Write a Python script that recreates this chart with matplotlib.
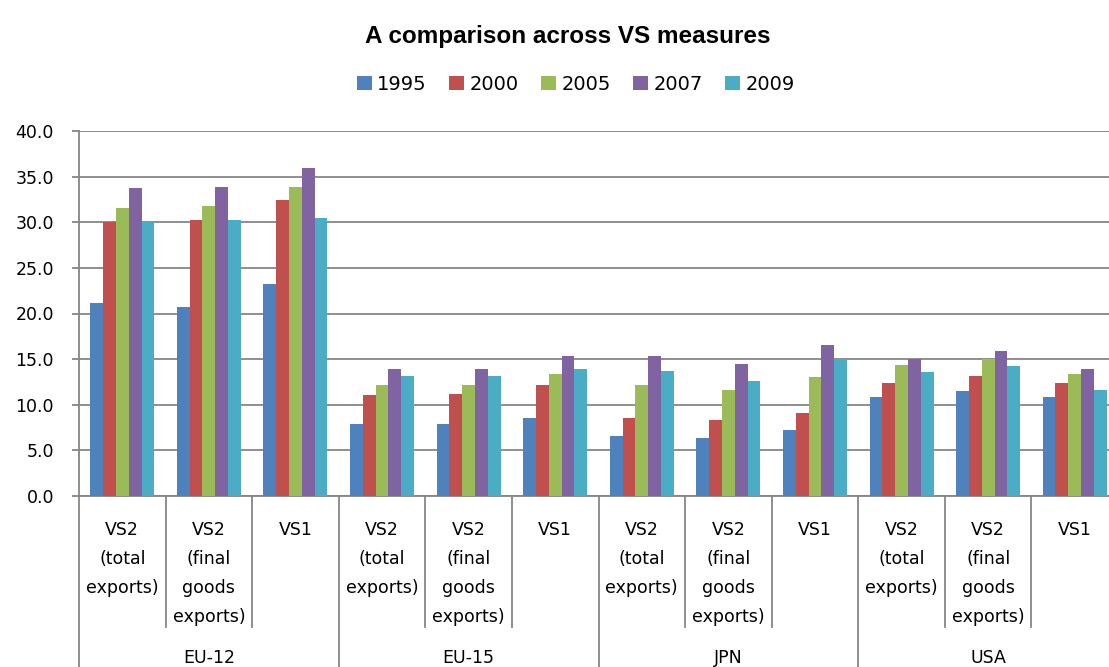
import matplotlib
matplotlib.use("Agg")
import matplotlib.pyplot as plt
import numpy as np

years = ["1995", "2000", "2005", "2007", "2009"]
colors = ["#4F81BD", "#C0504D", "#9BBB59", "#8064A2", "#4BACC6"]
measures = ["VS2\n(total\nexports)", "VS2\n(final\ngoods\nexports)", "VS1"]
regions = ["EU-12", "EU-15", "JPN", "USA"]

# one list per year, 12 values: (EU-12, EU-15, JPN, USA) x (VS2 total, VS2 final, VS1)
v1995 = [21.1, 20.7, 23.2, 7.9, 7.9, 8.5, 6.6, 6.4, 7.2, 10.9, 11.5, 10.9]
v2000 = [30.0, 30.3, 32.4, 11.1, 11.2, 12.2, 8.5, 8.3, 9.1, 12.4, 13.2, 12.4]
v2005 = [31.6, 31.8, 33.9, 12.2, 12.2, 13.4, 12.2, 11.6, 13.0, 14.4, 15.0, 13.4]
v2007 = [33.7, 33.9, 35.9, 13.9, 13.9, 15.3, 15.3, 14.5, 16.5, 15.0, 15.9, 13.9]
v2009 = [30.0, 30.3, 30.5, 13.2, 13.2, 13.9, 13.7, 12.6, 15.0, 13.6, 14.3, 11.6]
series = [v1995, v2000, v2005, v2007, v2009]

grey = "#868686"
fig = plt.figure(figsize=(11.09, 6.67), dpi=100)
ax = fig.add_axes([79/1109, 171/667, 1039/1109, 365/667])

n = len(v1995)
x = np.arange(n) + 0.5
w = 0.148
for j, (vals, c, yr) in enumerate(zip(series, colors, years)):
    ax.bar(x + (j - 2) * w, vals, width=w, color=c, label=yr, zorder=3)

ax.set_xlim(0, n)
ax.set_ylim(0, 40)
ax.set_yticks(np.arange(0, 41, 5))
ax.set_yticklabels(["%.1f" % t for t in np.arange(0, 41, 5)], fontsize=12.5)
ax.yaxis.grid(True, color=grey, linewidth=1.3, zorder=0)
ax.set_xticks([])
ax.tick_params(axis="y", length=5, width=1.3, color=grey, pad=13)
for s in ["top", "right", "left"]:
    ax.spines[s].set_visible(False)
ax.spines["bottom"].set_color(grey)
ax.spines["bottom"].set_linewidth(1.3)

# category separators below the axis
tr = ax.get_xaxis_transform()
for k in range(n + 1):
    low = -0.5 if k % 3 == 0 else -0.359
    ax.plot([k, k], [1.0 if k == 0 else 0, low], transform=tr, color=grey,
            linewidth=1.3, clip_on=False, zorder=4)

for i in range(n):
    ax.text(x[i], -0.068, measures[i % 3], transform=tr, ha="center", va="top",
            fontsize=12.5, linespacing=1.8)
for g, r in enumerate(regions):
    ax.text(g * 3 + 1.5, -0.444, r, transform=tr, ha="center", va="center",
            fontsize=12.5)

fig.text(568/1109, 1 - 43/667, "A comparison across VS measures", ha="center",
         va="baseline", fontsize=17.5, fontweight="bold", family="Liberation Sans")

fig.legend(loc="center", bbox_to_anchor=(576/1109, 1 - 84/667), ncol=5,
           frameon=False, fontsize=14, handlelength=0.75, handleheight=0.75,
           handletextpad=0.3, columnspacing=1.15)

fig.savefig("out.png", dpi=100)
